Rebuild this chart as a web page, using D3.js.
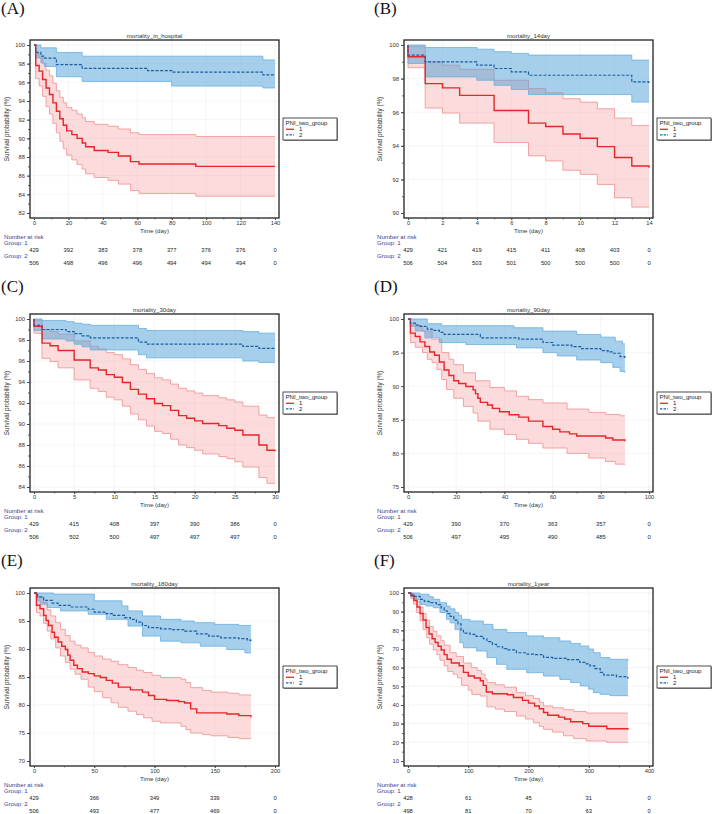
<!DOCTYPE html>
<html>
<head>
<meta charset="utf-8">
<script src="https://cdn.jsdelivr.net/npm/d3@7"></script>
<style>
body { margin: 0; background: #fff; }
svg { display: block; font-family: "Liberation Sans", Arial, sans-serif; }
</style>
</head>
<body>
<svg id="chart" width="713" height="814"></svg>
<script>
// ---- (A) mortality_in_hospital ----
var hospG1   = [[0,100],[1,97.8],[3,97.2],[5,96.3],[7,95.4],[9,94.7],[11,93.8],[13,92.9],[15,92.1],[17,91.4],[19,90.8],[22,90.4],[25,90.0],[28,89.5],[30,89.1],[35,88.7],[43,88.5],[49,88.1],[56,87.5],[61,87.25],[94,87.0],[140,87.0]];
var hospG1Hi = [[0,100],[1,99.1],[3,98.7],[5,98.0],[7,97.3],[9,96.7],[11,95.9],[13,95.1],[15,94.4],[17,93.8],[19,93.3],[22,93.0],[25,92.6],[28,92.2],[30,91.8],[35,91.5],[43,91.3],[49,91.0],[56,90.6],[61,90.4],[94,90.2],[140,90.2]];
var hospG1Lo = [[0,100],[1,96.4],[3,95.6],[5,94.5],[7,93.4],[9,92.6],[11,91.6],[13,90.6],[15,89.7],[17,88.9],[19,88.2],[22,87.7],[25,87.2],[28,86.7],[30,86.2],[35,85.8],[43,85.5],[49,85.1],[56,84.4],[61,84.1],[94,83.8],[140,83.8]];
var hospG2   = [[0,100],[1,99.2],[4,98.8],[6,98.6],[13,97.9],[28,97.5],[66,97.25],[80,97.1],[133,96.8],[140,96.8]];
var hospG2Hi = [[0,100],[4,99.7],[13,99.2],[28,98.8],[133,98.4],[140,98.4]];
var hospG2Lo = [[0,100],[1,98.6],[4,98.1],[6,97.7],[13,96.6],[28,96.1],[80,95.6],[133,95.4],[140,95.4]];
var hospXTicks = [0, 20, 40, 60, 80, 100, 120, 140];
var hospYTicks = [82, 84, 86, 88, 90, 92, 94, 96, 98, 100];
var hospRisk1 = [429, 392, 383, 378, 377, 376, 376, 0];
var hospRisk2 = [506, 498, 496, 496, 494, 494, 494, 0];

// ---- (B) mortality_14day ----
var d14G1   = [[0,100],[0,99.3],[1,97.7],[2,97.45],[3,97.0],[5,96.1],[7,95.35],[8,95.15],[9,94.7],[10,94.45],[11,93.95],[12,93.3],[13,92.8],[14,92.7]];
var d14G1Hi = [[0,100],[0,99.9],[1,99.0],[2,98.8],[3,98.55],[5,97.9],[7,97.4],[8,97.15],[9,96.8],[10,96.6],[11,96.2],[12,95.65],[13,95.2],[14,95.2]];
var d14G1Lo = [[0,100],[0,98.65],[1,96.25],[2,95.95],[3,95.35],[5,94.2],[7,93.4],[8,93.1],[9,92.55],[10,92.3],[11,91.7],[12,90.9],[13,90.35],[14,90.35]];
var d14G2   = [[0,100],[0,99.4],[1,99.0],[4,98.8],[5,98.6],[6,98.4],[7,98.2],[13,97.8],[14,97.7]];
var d14G2Hi = [[0,100],[1,99.85],[4,99.75],[5,99.6],[6,99.5],[7,99.4],[13,99.1],[14,99.1]];
var d14G2Lo = [[0,100],[0,98.9],[1,98.1],[4,97.9],[5,97.6],[6,97.35],[7,97.05],[13,96.6],[14,96.6]];
var d14XTicks = [0, 2, 4, 6, 8, 10, 12, 14];
var d14YTicks = [90, 92, 94, 96, 98, 100];
var d14Risk1 = [429, 421, 419, 415, 411, 408, 403, 0];
var d14Risk2 = [506, 504, 503, 501, 500, 500, 500, 0];

// ---- (C) mortality_30day ----
var d30G1   = [[0,100],[0,99.3],[1,97.7],[2,97.45],[3,97.0],[5,96.1],[7,95.35],[8,95.15],[9,94.7],[10,94.45],[11,93.95],[12,93.3],[13,92.85],[14,92.4],[15,91.95],[16,91.75],[17,91.3],[18,90.8],[19,90.55],[20,90.3],[21,90.05],[23,89.85],[24,89.6],[25,89.4],[26,88.95],[28,88.0],[29,87.5],[30,87.4]];
var d30G1Hi = [[0,100],[0,99.9],[1,99.0],[2,98.8],[3,98.55],[5,97.9],[7,97.4],[8,97.15],[9,96.8],[10,96.6],[11,96.2],[12,95.65],[13,95.2],[14,94.8],[15,94.4],[16,94.2],[17,93.8],[18,93.4],[19,93.15],[20,92.95],[21,92.7],[23,92.5],[24,92.3],[25,92.1],[26,91.7],[28,90.85],[29,90.6],[30,90.6]];
var d30G1Lo = [[0,100],[0,98.65],[1,96.25],[2,95.95],[3,95.35],[5,94.2],[7,93.4],[8,93.1],[9,92.55],[10,92.3],[11,91.7],[12,90.95],[13,90.4],[14,89.8],[15,89.3],[16,89.1],[17,88.55],[18,88.0],[19,87.75],[20,87.5],[21,87.15],[23,86.9],[24,86.7],[25,86.4],[26,85.9],[28,84.9],[29,84.35],[30,84.35]];
var d30G2   = [[0,100],[0,99.4],[1,99.0],[4,98.8],[5,98.6],[6,98.4],[7,98.2],[13,97.8],[14,97.6],[26,97.4],[28,97.2],[30,97.2]];
var d30G2Hi = [[0,100],[1,99.85],[4,99.75],[5,99.6],[6,99.5],[7,99.4],[13,99.1],[14,98.9],[26,98.8],[28,98.65],[30,98.65]];
var d30G2Lo = [[0,100],[0,98.9],[1,98.1],[4,97.9],[5,97.6],[6,97.35],[7,97.05],[13,96.6],[14,96.3],[26,96.0],[28,95.85],[30,95.85]];
var d30XTicks = [0, 5, 10, 15, 20, 25, 30];
var d30YTicks = [84, 86, 88, 90, 92, 94, 96, 98, 100];
var d30Risk1 = [429, 415, 408, 397, 390, 386, 0];
var d30Risk2 = [506, 502, 500, 497, 497, 497, 0];

// ---- (D) mortality_90day ----
var d90G1   = [[0,100],[1,97.9],[3,97.4],[5,96.6],[7,95.9],[9,95.1],[11,94.6],[13,93.6],[15,92.4],[17,91.6],[19,90.8],[21,90.4],[24,89.95],[27,89.45],[28,88.9],[29,88.2],[30,87.6],[33,87.2],[35,86.7],[38,86.2],[42,85.75],[46,85.4],[50,84.8],[56,84.0],[60,83.6],[63,83.2],[67,82.9],[70,82.6],[82,82.3],[85,82.0],[90,81.8]];
var d90G1Hi = [[0,100],[1,99.3],[3,99.0],[6,98.2],[10,97.0],[14,95.0],[17,94.0],[19,93.2],[23,92.0],[28,90.8],[34,89.8],[40,89.3],[45,88.5],[50,88.0],[56,87.5],[66,86.6],[75,86.1],[82,85.8],[88,85.6],[90,85.6]];
var d90G1Lo = [[0,100],[1,96.5],[3,95.8],[6,95.0],[8,94.0],[10,93.5],[12,92.5],[14,91.0],[16,89.5],[19,88.2],[23,87.0],[27,86.0],[29,84.8],[34,83.6],[40,82.8],[45,82.1],[50,81.5],[56,80.8],[66,80.0],[75,79.3],[82,78.8],[86,78.4],[90,78.3]];
var d90G2   = [[0,100],[1,99.4],[3,99.1],[5,98.9],[8,98.5],[10,98.3],[13,98.0],[15,97.7],[30,97.2],[46,97.0],[56,96.5],[60,96.1],[68,95.9],[72,95.6],[80,95.3],[83,95.1],[85,94.9],[88,94.4],[90,94.0]];
var d90G2Hi = [[0,100],[8,99.3],[14,99.0],[44,98.7],[56,98.2],[70,97.7],[80,97.3],[86,96.7],[89,96.3],[90,96.3]];
var d90G2Lo = [[0,100],[1,98.9],[3,98.2],[7,97.2],[13,96.5],[24,96.2],[45,95.7],[56,95.0],[62,94.5],[70,93.9],[80,93.5],[85,92.8],[88,92.2],[90,92.0]];
var d90XTicks = [0, 20, 40, 60, 80, 100];
var d90YTicks = [75, 80, 85, 90, 95, 100];
var d90RiskT = [0, 20, 40, 60, 80, 100];
var d90Risk1 = [429, 390, 370, 363, 357, 0];
var d90Risk2 = [506, 497, 495, 490, 485, 0];

// ---- (E) mortality_180day ----
var d180G1   = [[0,100],[2,97.8],[5,97.2],[8,96.0],[10,95.1],[12,94.2],[15,93.0],[17,92.1],[20,91.25],[23,90.5],[26,89.9],[28,88.9],[30,88.0],[33,87.1],[36,86.5],[40,85.9],[45,85.6],[50,85.2],[55,84.9],[60,84.4],[65,83.9],[70,83.2],[80,82.7],[90,82.3],[95,81.7],[100,81.0],[110,80.8],[120,80.6],[125,80.35],[130,79.3],[135,78.6],[160,78.4],[170,78.1],[180,77.8]];
var d180G1Hi = [[0,100],[2,99.2],[8,98.3],[11,97.0],[14,95.9],[18,94.7],[22,93.5],[26,92.4],[30,91.4],[34,90.7],[39,90.2],[45,89.4],[50,88.75],[57,88.2],[64,87.8],[70,87.2],[78,86.7],[85,86.2],[91,85.8],[98,85.3],[105,84.9],[122,84.6],[126,84.0],[130,83.1],[140,82.6],[147,82.3],[161,82.1],[170,81.8],[180,81.7]];
var d180G1Lo = [[0,100],[2,96.5],[5,95.9],[8,94.6],[11,93.2],[14,91.8],[18,90.2],[22,88.75],[26,87.6],[30,86.4],[34,85.5],[39,84.6],[45,83.2],[50,82.4],[57,81.3],[64,80.4],[70,79.6],[78,78.9],[85,78.3],[91,77.7],[98,77.1],[105,76.8],[122,76.2],[126,75.6],[130,75.0],[140,74.7],[147,74.5],[161,74.2],[170,74.0],[180,73.9]];
var d180G2   = [[0,100],[3,99.3],[8,98.7],[15,98.2],[20,97.8],[30,97.5],[45,97.1],[50,96.6],[60,96.3],[65,96.0],[75,95.6],[80,95.3],[85,94.8],[90,94.2],[95,93.8],[105,93.6],[115,93.45],[125,93.2],[135,92.7],[145,92.3],[155,92.0],[170,91.85],[177,91.6],[180,91.4]];
var d180G2Hi = [[0,100],[16,99.8],[50,98.6],[73,97.7],[78,96.8],[90,95.9],[105,95.3],[122,95.0],[133,94.7],[150,94.4],[170,94.2],[180,94.2]];
var d180G2Lo = [[0,100],[3,98.6],[5,98.0],[11,97.4],[22,96.8],[45,96.2],[60,95.3],[78,94.1],[90,92.3],[105,91.4],[122,91.1],[138,90.5],[160,89.9],[175,89.3],[180,89.3]];
var d180XTicks = [0, 50, 100, 150, 200];
var d180YTicks = [70, 75, 80, 85, 90, 95, 100];
var d180Risk1 = [429, 366, 349, 339, 0];
var d180Risk2 = [506, 493, 477, 469, 0];

// ---- (F) mortality_1year ----
var y1G1   = [[0,100],[5,98.5],[10,96],[15,92.5],[20,89],[25,85.5],[30,81.5],[35,78],[40,75.5],[45,73.5],[50,71.5],[55,69.5],[60,67],[65,64.5],[72,62.5],[85,61],[92,57.5],[100,55.5],[110,54.5],[120,53],[125,50.5],[130,47],[140,46],[165,45.5],[175,44],[190,42.5],[200,41],[210,39.5],[218,38],[225,36],[232,34.5],[250,33.5],[260,32.5],[270,31],[290,30],[300,28.6],[330,27.3],[365,26.8]];
var y1G1Hi = [[0,100],[5,99.8],[10,98],[14,95.5],[20,92.5],[25,89],[30,85.5],[36,82],[42,79.5],[48,77],[55,74.5],[60,72],[70,68],[80,66],[92,62.5],[105,60],[115,58.5],[122,56.5],[128,54],[131,52],[145,50.8],[160,49.5],[180,46.6],[195,45],[208,43.5],[218,41.5],[225,39.5],[240,38.5],[258,37.5],[275,36.5],[296,35.7],[365,35.7]];
var y1G1Lo = [[0,100],[5,97],[9,94],[14,89.5],[20,85],[25,80.5],[31,76],[36,72.5],[42,69.5],[48,67],[53,64],[60,61],[66,58],[75,56.5],[82,54.5],[89,50.5],[100,48],[106,45.7],[120,44.8],[131,39],[145,37.8],[160,36.5],[180,34.1],[195,32.5],[208,30.5],[218,28.5],[225,27],[240,25.5],[258,23.5],[275,22],[296,20.7],[330,20],[365,19.6]];
var y1G2   = [[0,100],[5,99],[10,98.2],[20,96.6],[27,95.5],[35,94.8],[47,93.8],[55,92],[60,90.5],[65,89],[70,87.5],[76,85.5],[83,83.5],[88,80],[92,78.5],[103,77.8],[113,76.8],[125,75.5],[131,74],[140,72.5],[147,71.2],[157,70.2],[164,69.5],[180,68],[195,67.3],[210,67],[225,65.5],[240,65],[263,64.3],[285,62.8],[296,62],[302,61],[310,59.5],[319,57.5],[325,56],[346,55.2],[365,54]];
var y1G2Hi = [[0,100],[20,99.3],[35,98],[42,96.6],[53,94.8],[64,93],[70,91.5],[78,89.5],[84,88],[89,85.9],[103,85],[125,83.2],[141,80.5],[164,78.8],[197,77],[225,76],[252,74.3],[270,73],[286,71.6],[300,70],[308,68],[319,65.4],[335,64.5],[365,63.6]];
var y1G2Lo = [[0,100],[5,98],[9,96.6],[20,93.9],[30,93],[42,92.1],[53,89.5],[64,85.9],[70,84],[78,80.5],[86,73.4],[92,70.7],[114,68.9],[131,65.4],[147,61.8],[164,59.1],[197,57.3],[225,55.5],[252,53.7],[270,52],[286,50.2],[300,48.5],[308,46.6],[319,45.7],[335,45],[365,44.6]];
var y1XTicks = [0, 100, 200, 300, 400];
var y1YTicks = [10, 20, 30, 40, 50, 60, 70, 80, 90, 100];
var y1Risk1 = [428, 61, 45, 31, 0];
var y1Risk2 = [498, 81, 70, 63, 0];

var groupNames = ['1', '2'];

var panels =
[
    { label: '(A)', title: 'mortality_in_hospital', col: 0, row: 0,
      xDomain: [0, 140], xTicks: hospXTicks, xMinor: 10, yDomain: [82, 100], yTicks: hospYTicks, yMinor: 1,
      g1: hospG1, g1Lo: hospG1Lo, g1Hi: hospG1Hi, g2: hospG2, g2Lo: hospG2Lo, g2Hi: hospG2Hi,
      riskT: hospXTicks, risk1: hospRisk1, risk2: hospRisk2 },
    { label: '(B)', title: 'mortality_14day', col: 1, row: 0,
      xDomain: [0, 14], xTicks: d14XTicks, xMinor: 1, yDomain: [90, 100], yTicks: d14YTicks, yMinor: 1,
      g1: d14G1, g1Lo: d14G1Lo, g1Hi: d14G1Hi, g2: d14G2, g2Lo: d14G2Lo, g2Hi: d14G2Hi,
      riskT: d14XTicks, risk1: d14Risk1, risk2: d14Risk2 },
    { label: '(C)', title: 'mortality_30day', col: 0, row: 1,
      xDomain: [0, 30], xTicks: d30XTicks, xMinor: 2.5, yDomain: [84, 100], yTicks: d30YTicks, yMinor: 1,
      g1: d30G1, g1Lo: d30G1Lo, g1Hi: d30G1Hi, g2: d30G2, g2Lo: d30G2Lo, g2Hi: d30G2Hi,
      riskT: d30XTicks, risk1: d30Risk1, risk2: d30Risk2 },
    { label: '(D)', title: 'mortality_90day', col: 1, row: 1,
      xDomain: [0, 100], xTicks: d90XTicks, xMinor: 10, yDomain: [75, 100], yTicks: d90YTicks, yMinor: 0,
      g1: d90G1, g1Lo: d90G1Lo, g1Hi: d90G1Hi, g2: d90G2, g2Lo: d90G2Lo, g2Hi: d90G2Hi,
      riskT: d90RiskT, risk1: d90Risk1, risk2: d90Risk2 },
    { label: '(E)', title: 'mortality_180day', col: 0, row: 2,
      xDomain: [0, 200], xTicks: d180XTicks, xMinor: 25, yDomain: [70, 100], yTicks: d180YTicks, yMinor: 0,
      g1: d180G1, g1Lo: d180G1Lo, g1Hi: d180G1Hi, g2: d180G2, g2Lo: d180G2Lo, g2Hi: d180G2Hi,
      riskT: d180XTicks, risk1: d180Risk1, risk2: d180Risk2 },
    { label: '(F)', title: 'mortality_1year', col: 1, row: 2,
      xDomain: [0, 400], xTicks: y1XTicks, xMinor: 50, yDomain: [10, 100], yTicks: y1YTicks, yMinor: 5,
      g1: y1G1, g1Lo: y1G1Lo, g1Hi: y1G1Hi, g2: y1G2, g2Lo: y1G2Lo, g2Hi: y1G2Hi,
      riskT: y1XTicks, risk1: y1Risk1, risk2: y1Risk2 }
];

// layout of the 2x3 grid (pixel positions of the data area)
var colX = [[34, 275], [408, 649]];
var rowY = [[45, 213], [319, 487], [593, 761]];
var labelBase = [14, 291.5, 566];

var RED = '#e8262a';
var BLUE = '#1c5ea6';
var riskColor = '#3d3d8f';

var svg = d3.select('#chart');

panels.forEach(function(p)
{
    drawPanel(p);
});


function stepAt(curve, t)
{
    var v = curve[0][1];
    for (var i = 0; i < curve.length; i++)
    {
        if (curve[i][0] <= t) v = curve[i][1];
    }
    return v;
}


function bandRows(lo, hi)
{
    var times = Array.from(d3.union(lo.map(function(d) { return d[0]; }),
                                    hi.map(function(d) { return d[0]; }))).sort(d3.ascending);
    return times.map(function(t)
    {
        return { t: t, lo: stepAt(lo, t), hi: stepAt(hi, t) };
    });
}


function drawPanel(p)
{
    var x0 = colX[p.col][0], x1 = colX[p.col][1];
    var y0 = rowY[p.row][0], y1 = rowY[p.row][1];
    var fl = x0 - 4, fr = x1 + 4, ft = y0 - 5, fb = y1 + 5;
    var left = p.col == 0 ? 0 : 373;

    var x = d3.scaleLinear().domain(p.xDomain).range([x0, x1]);
    var y = d3.scaleLinear().domain(p.yDomain).range([y1, y0]);
    var g = svg.append('g');

    // panel letter
    g.append('text')
        .attr('x', left + 1).attr('y', labelBase[p.row])
        .style('font-family', '"Liberation Serif", "Times New Roman", serif')
        .attr('font-size', 17).attr('fill', '#111')
        .text(p.label);

    // title
    g.append('text')
        .attr('x', (fl + fr) / 2).attr('y', ft - 2.5)
        .attr('text-anchor', 'middle').attr('font-size', 6.1).attr('fill', '#333')
        .text(p.title);

    // faint grid
    g.selectAll('.gx').data(p.xTicks).enter().append('line')
        .attr('x1', function(d) { return x(d); }).attr('x2', function(d) { return x(d); })
        .attr('y1', ft).attr('y2', fb)
        .attr('stroke', '#efefef').attr('stroke-width', 0.6);
    g.selectAll('.gy').data(p.yTicks).enter().append('line')
        .attr('x1', fl).attr('x2', fr)
        .attr('y1', function(d) { return y(d); }).attr('y2', function(d) { return y(d); })
        .attr('stroke', '#efefef').attr('stroke-width', 0.6);

    var area = d3.area().curve(d3.curveStepAfter)
        .x(function(d) { return x(d.t); })
        .y0(function(d) { return y(d.lo); })
        .y1(function(d) { return y(d.hi); });
    var line = d3.line().curve(d3.curveStepAfter)
        .x(function(d) { return x(d[0]); })
        .y(function(d) { return y(d[1]); });

    // group 1 confidence band
    g.append('path').datum(bandRows(p.g1Lo, p.g1Hi)).attr('d', area)
        .attr('fill', '#f4a6a6').attr('fill-opacity', 0.4);
    [p.g1Lo, p.g1Hi].forEach(function(c)
    {
        g.append('path').datum(c).attr('d', line)
            .attr('fill', 'none').attr('stroke', '#f39a9a').attr('stroke-width', 0.9);
    });

    // group 2 confidence band
    g.append('path').datum(bandRows(p.g2Lo, p.g2Hi)).attr('d', area)
        .attr('fill', '#4c9fd8').attr('fill-opacity', 0.5);
    [p.g2Lo, p.g2Hi].forEach(function(c)
    {
        g.append('path').datum(c).attr('d', line)
            .attr('fill', 'none').attr('stroke', '#6aaee0').attr('stroke-width', 0.8);
    });

    // survival curves
    g.append('path').datum(p.g1).attr('d', line)
        .attr('fill', 'none').attr('stroke', RED).attr('stroke-width', 1.4);
    g.append('path').datum(p.g2).attr('d', line)
        .attr('fill', 'none').attr('stroke', BLUE).attr('stroke-width', 1.2)
        .attr('stroke-dasharray', '3,1.6');

    // frame
    g.append('rect')
        .attr('x', fl).attr('y', ft).attr('width', fr - fl).attr('height', fb - ft)
        .attr('fill', 'none').attr('stroke', '#222').attr('stroke-width', 1.3);

    // y axis
    var ya = g.append('g').attr('transform', 'translate(' + fl + ',0)')
        .call(d3.axisLeft(y).tickValues(p.yTicks).tickSize(3).tickPadding(2));
    if (p.yMinor > 0)
    {
        g.append('g').attr('transform', 'translate(' + fl + ',0)')
            .call(d3.axisLeft(y).tickValues(d3.range(p.yDomain[0], p.yDomain[1], p.yMinor)).tickSize(1.8).tickFormat(''))
            .call(function(a) { a.select('.domain').remove(); a.selectAll('line').attr('stroke', '#444'); });
    }
    styleAxis(ya);

    // x axis
    var xa = g.append('g').attr('transform', 'translate(0,' + fb + ')')
        .call(d3.axisBottom(x).tickValues(p.xTicks).tickSize(2).tickPadding(0.6));
    g.append('g').attr('transform', 'translate(0,' + fb + ')')
        .call(d3.axisBottom(x).tickValues(d3.range(p.xDomain[0], p.xDomain[1], p.xMinor)).tickSize(1.3).tickFormat(''))
        .call(function(a) { a.select('.domain').remove(); a.selectAll('line').attr('stroke', '#444'); });
    styleAxis(xa);

    // axis titles
    g.append('text')
        .attr('transform', 'translate(' + (left + 8.5) + ',' + ((ft + fb) / 2) + ') rotate(-90)')
        .attr('text-anchor', 'middle').attr('font-size', 6.3).attr('fill', '#333')
        .text('Survival probability (%)');
    g.append('text')
        .attr('x', (x0 + x1) / 2).attr('y', y1 + 19.5)
        .attr('text-anchor', 'middle').attr('font-size', 6.1).attr('fill', '#333')
        .text('Time (day)');

    // legend
    var lx = fr + 4, ly = (ft + fb) / 2 - 11;
    g.append('rect').attr('x', lx + 1).attr('y', ly + 1).attr('width', 54).attr('height', 22).attr('fill', '#9a9a9a');
    g.append('rect').attr('x', lx).attr('y', ly).attr('width', 54).attr('height', 22)
        .attr('fill', '#fff').attr('stroke', '#222').attr('stroke-width', 0.8);
    g.append('text').attr('x', lx + 2.5).attr('y', ly + 7.2)
        .attr('font-size', 6.1).attr('fill', '#222').text('PNI_two_group');
    [RED, BLUE].forEach(function(c, i)
    {
        var yy = ly + 11.3 + i * 5.6;
        g.append('line').attr('x1', lx + 3).attr('x2', lx + 11).attr('y1', yy).attr('y2', yy)
            .attr('stroke', c).attr('stroke-width', i == 0 ? 1.3 : 1.1)
            .attr('stroke-dasharray', i == 0 ? null : '2.4,1.2');
        g.append('text').attr('x', lx + 16).attr('y', yy + 2.1)
            .attr('font-size', 6).attr('fill', '#222').text(groupNames[i]);
    });

    // number at risk table
    g.append('text').attr('x', left + 4).attr('y', y1 + 25.5)
        .attr('font-size', 6.1).attr('fill', riskColor).text('Number at risk');
    g.append('text').attr('x', left + 4).attr('y', y1 + 31.8)
        .attr('font-size', 6.1).attr('fill', riskColor).text('Group: 1');
    g.append('text').attr('x', left + 4).attr('y', y1 + 45)
        .attr('font-size', 6.1).attr('fill', riskColor).text('Group: 2');

    [p.risk1, p.risk2].forEach(function(arr, k)
    {
        g.selectAll('.risk' + k).data(arr).enter().append('text')
            .attr('x', function(d, i) { return x(p.riskT[i]); })
            .attr('y', y1 + (k == 0 ? 38.6 : 52))
            .attr('text-anchor', 'middle').attr('font-size', 5.8).attr('fill', '#222')
            .text(function(d) { return d; });
    });
}


function styleAxis(a)
{
    a.select('.domain').remove();
    a.attr('font-family', '"Liberation Sans", Arial, sans-serif').attr('font-size', 5.8);
    a.selectAll('line').attr('stroke', '#444');
    a.selectAll('text').attr('fill', '#333');
}
</script>
</body>
</html>
